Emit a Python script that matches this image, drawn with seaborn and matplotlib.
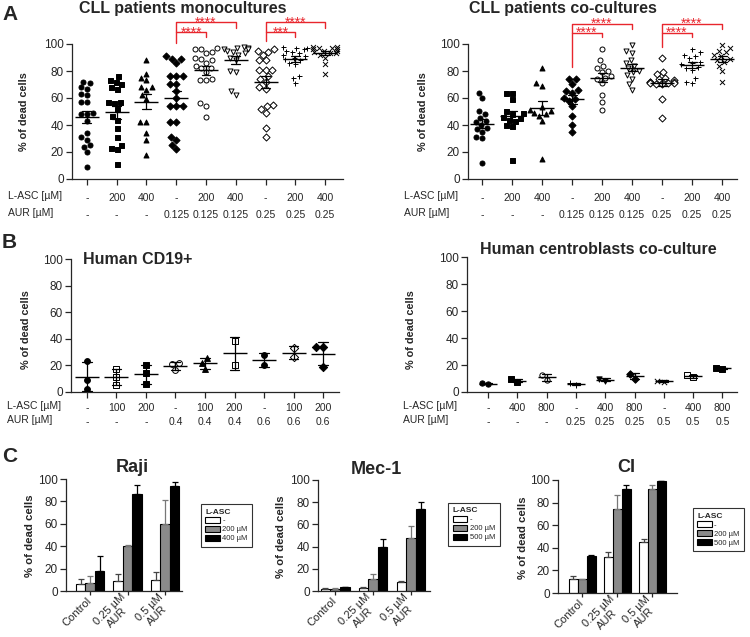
import numpy as np
import pandas as pd
import seaborn as sns
import matplotlib.pyplot as plt

# ---- panel A: CLL patients, % of dead cells (one point per patient)
lasc_a = ['-', '200', '400', '-', '200', '400', '-', '200', '400']
aur_a = ['-', '-', '-', '0.125', '0.125', '0.125', '0.25', '0.25', '0.25']
mono = [
    [72, 71, 68, 67, 63, 62, 57, 57, 49, 48, 48, 43, 34, 31, 29, 25, 24, 20, 9],
    [76, 73, 72, 70, 68, 67, 57, 57, 56, 52, 47, 44, 38, 31, 25, 23, 22, 11],
    [88, 78, 75, 73, 68, 68, 66, 62, 59, 42, 42, 34, 29, 18],
    [91, 89, 89, 86, 76, 76, 76, 70, 70, 65, 60, 54, 54, 54, 42, 42, 31, 29, 25, 22],
    [97, 96, 96, 94, 93, 90, 89, 88, 86, 84, 82, 82, 79, 74, 73, 73, 56, 54, 46],
    [98, 97, 97, 96, 96, 95, 94, 93, 92, 90, 88, 80, 79, 65, 62],
    [96, 95, 94, 92, 88, 88, 81, 81, 81, 76, 74, 72, 68, 67, 55, 54, 52, 49, 38, 31],
    [98, 97, 97, 96, 95, 94, 93, 92, 91, 90, 89, 88, 86, 85, 76, 75, 71],
    [98, 98, 97, 97, 96, 96, 95, 95, 94, 93, 93, 92, 90, 85, 78],
]
cocult = [
    [64, 60, 50, 48, 45, 43, 42, 40, 38, 37, 35, 31, 30, 12],
    [64, 64, 59, 50, 49, 48, 46, 45, 44, 43, 40, 39, 14],
    [82, 71, 69, 53, 51, 50, 49, 48, 47, 43, 15],
    [74, 74, 70, 66, 65, 64, 60, 59, 58, 54, 47, 40, 35],
    [96, 88, 84, 82, 80, 79, 76, 75, 74, 71, 62, 57, 51],
    [99, 95, 93, 88, 86, 84, 82, 80, 79, 77, 74, 70, 66],
    [90, 79, 78, 75, 74, 73, 72, 72, 72, 71, 71, 71, 70, 70, 59, 45],
    [96, 94, 92, 91, 90, 87, 86, 85, 83, 82, 81, 75, 72, 71],
    [99, 97, 95, 94, 92, 91, 89, 88, 87, 84, 80, 72],
]

# ---- panel B: healthy cells
lasc_b1 = ['-', '100', '200', '-', '100', '200', '-', '100', '200']
aur_b1 = ['-', '-', '-', '0.4', '0.4', '0.4', '0.6', '0.6', '0.6']
cd19 = [[23.5, 9, 2], [17.5, 11.5, 5.5], [20, 14, 6], [21.5, 21, 16.5],
        [25.5, 22, 17.5], [38, 20], [27.5, 20], [33, 26], [34, 33.5, 19]]
lasc_b2 = ['-', '400', '800', '-', '400', '800', '-', '400', '800']
aur_b2 = ['-', '-', '-', '0.25', '0.25', '0.25', '0.5', '0.5', '0.5']
centro = [[6, 6.5], [7.5, 9.5], [9, 12.5], [5.5, 6.5], [8.2, 10],
          [10, 13.5], [7.5, 8.5], [11, 12.5], [17.3, 17.9]]

# ---- panel C: cell lines, mean and upper error
c_conds = ['Control', '0.25 µM\nAUR', '0.5 µM\nAUR']
raji_lasc = ['-', '200 µM', '400 µM']
raji_mean = [[6, 9, 10], [7, 40, 60], [18, 87, 94]]
raji_err = [[5, 6, 7], [6, 1.5, 21], [13, 8, 3]]
mec_lasc = ['-', '200 µM', '500 µM']
mec_mean = [[2, 3, 8], [2.2, 11, 48], [3.5, 40, 74]]
mec_err = [[0.5, 0.5, 0.6], [0.6, 4, 11], [0.5, 7, 6]]
ci_lasc = ['-', '200 µM', '500 µM']
ci_mean = [[12, 32, 45], [12, 74, 92], [33, 92, 99]]
ci_err = [[3, 4, 3], [0.5, 13, 4], [1, 4, 0.5]]

sns.set_style('ticks')
plt.rcParams['font.family'] = ['Liberation Sans', 'DejaVu Sans']
plt.rcParams['axes.linewidth'] = 0.9
plt.rcParams['xtick.major.width'] = 0.9
plt.rcParams['ytick.major.width'] = 0.9

W, H = 750, 637
fig = plt.figure(figsize=(7.5, 6.37), dpi=100)
red = '#e8262d'


def px_axes(x0, y0, x1, y1):
    return fig.add_axes([x0 / W, 1 - y1 / H, (x1 - x0) / W, (y1 - y0) / H])


def ftext(x, y, s, **kw):
    fig.text(x / W, 1 - y / H, s, **kw)


def dot_panel(ax, groups, markers, faces, err, lasc, aur, size, mean_w, cap, xlim, spacing, pad):
    order = [str(i) for i in range(len(groups))]
    df = pd.DataFrame({'group': [str(i) for i, g in enumerate(groups) for _ in g],
                       'value': [v for g in groups for v in g]})
    for i, key in enumerate(order):
        sub = df[df['group'] == key]
        sns.swarmplot(data=sub, x='group', y='value', order=order, marker=markers[i],
                      color=faces[i], edgecolor='black', linewidth=0.7, size=size,
                      warn_thresh=1, clip_on=False, zorder=2, ax=ax)
    sns.pointplot(data=df, x='group', y='value', order=order, errorbar=err, capsize=cap,
                  color='black', marker='_', markersize=mean_w, markeredgewidth=1,
                  linestyle='none', err_kws={'linewidth': 0.9, 'zorder': 5},
                  zorder=5, clip_on=False, ax=ax)
    ax.set_ylim(0, 100)
    ax.set_yticks(range(0, 101, 20))
    ax.set_xlim(*xlim)
    ax.set_xticks(range(len(groups)))
    ax.set_xticklabels([f'{a}\n{b}' for a, b in zip(lasc, aur)], fontsize=7.5,
                       linespacing=spacing)
    ax.tick_params(axis='x', length=4.5, pad=pad)
    ax.tick_params(axis='y', length=4, labelsize=8.5, pad=2)
    ax.set_xlabel('')
    ax.set_ylabel('% of dead cells', fontweight='bold', fontsize=7.8)
    ax.annotate('L-ASC [µM]\nAUR [µM]', xy=(0, 0), xycoords='axes fraction',
                xytext=(-7, -(pad + 3.3)), textcoords='offset points', ha='right', va='top',
                fontsize=7.5, linespacing=spacing, multialignment='left')
    sns.despine(ax=ax)


def bracket(ax, g0, g1, y, leg0, leg1, stars):
    ax.plot([g0, g0, g1, g1], [leg0, y, y, leg1], color=red, lw=1, clip_on=False)
    ax.text((g0 + g1) / 2, y - 3.0, stars, color=red, fontsize=10, ha='center',
            va='baseline', clip_on=False)


markers_a = ['o', 's', '^', 'D', 'o', 'v', 'D', '+', 'x']
faces_a = ['black', 'black', 'black', 'black', 'white', 'white', 'white', 'black', 'black']

ax1 = px_axes(72, 44, 343, 179)
dot_panel(ax1, mono, markers_a, faces_a, 'se', lasc_a, aur_a, 3.6, 17, 0.3,
          (-0.5, 8.6), 1.9, 5.5)
ax1.yaxis.set_label_coords(-0.16, 0.5)
bracket(ax1, 3, 5, 116, 101, 112, '****')
bracket(ax1, 3, 4, 108.6, 108.6, 105, '****')
bracket(ax1, 6, 8, 116, 102, 112, '****')
bracket(ax1, 6, 7, 108.6, 108.6, 105, '***')

ax2 = px_axes(468, 44, 737, 179)
dot_panel(ax2, cocult, markers_a, faces_a, 'se', lasc_a, aur_a, 3.6, 17, 0.3,
          (-0.47, 8.5), 1.9, 5.5)
ax2.yaxis.set_label_coords(-0.15, 0.5)
bracket(ax2, 3, 5, 115, 83, 111, '****')
bracket(ax2, 3, 4, 108, 108, 105, '****')
bracket(ax2, 6, 8, 115, 98, 111, '****')
bracket(ax2, 6, 7, 108, 108, 105, '****')

markers_b1 = ['o', 's', 's', 'o', '^', 's', 'o', 'D', 'D']
faces_b1 = ['black', 'white', 'black', 'white', 'black', 'white', 'black', 'white', 'black']
ax3 = px_axes(71, 259, 339, 392)
dot_panel(ax3, cd19, markers_b1, faces_b1, 'sd', lasc_b1, aur_b1, 4.2, 17, 0.33,
          (-0.54, 8.54), 1.5, 3.5)
ax3.yaxis.set_label_coords(-0.15, 0.47)

markers_b2 = ['o', 's', 'o', '+', 'v', 'D', 'x', 's', 's']
faces_b2 = ['black', 'black', 'white', 'black', 'black', 'black', 'black', 'white', 'black']
ax4 = px_axes(467, 257, 737, 392)
dot_panel(ax4, centro, markers_b2, faces_b2, 'sd', lasc_b2, aur_b2, 3.8, 13, 0.3,
          (-0.72, 8.5), 1.5, 3.5)
ax4.yaxis.set_label_coords(-0.19, 0.46)


def bar_panel(ax, lasc, means, errs, xlim, leg_x, leg_y):
    df = pd.DataFrame({'cond': [c for _ in lasc for c in c_conds],
                       'lasc': [l for l in lasc for _ in c_conds],
                       'mean': [v for row in means for v in row]})
    sns.barplot(data=df, x='cond', y='mean', hue='lasc', order=c_conds, hue_order=lasc,
                palette=['white', '#8a8a8a', 'black'], edgecolor='black', linewidth=0.8,
                errorbar=None, width=0.76, ax=ax)
    for cont, err, ec in zip(ax.containers, errs, ['#444444', '#777777', 'black']):
        xs = [b.get_x() + b.get_width() / 2 for b in cont]
        hs = [b.get_height() for b in cont]
        ax.errorbar(xs, hs, yerr=[np.zeros(len(err)), err], fmt='none', ecolor=ec,
                    elinewidth=0.9, capsize=2, capthick=0.9, zorder=1)
    ax.set_ylim(0, 100)
    ax.set_yticks(range(0, 101, 20))
    ax.set_xlim(*xlim)
    ax.set_xticks(range(3))
    ax.set_xticklabels(c_conds, rotation=45, ha='right', va='center',
                       rotation_mode='anchor', multialignment='center', fontsize=8)
    ax.tick_params(axis='x', length=3, pad=3)
    ax.tick_params(axis='y', length=4, labelsize=8.5, pad=2)
    ax.set_xlabel('')
    ax.set_ylabel('% of dead cells', fontweight='bold', fontsize=8.2)
    sns.move_legend(ax, 'center left', bbox_to_anchor=(leg_x, leg_y), title='L-ASC',
                    frameon=True, fancybox=False, edgecolor='black', fontsize=5.5,
                    title_fontsize=6, handlelength=1.9, handleheight=0.9,
                    borderpad=0.6, labelspacing=0.15, handletextpad=0.3,
                    alignment='left')
    leg = ax.get_legend()
    leg.get_title().set_fontweight('bold')
    leg.get_frame().set_linewidth(0.8)
    sns.despine(ax=ax)


ax5 = px_axes(66, 479, 182, 591)
bar_panel(ax5, raji_lasc, raji_mean, raji_err, (-0.64, 2.45), 1.13, 0.585)
ax5.yaxis.set_label_coords(-0.27, 0.49)
ax6 = px_axes(318, 480, 430, 591)
bar_panel(ax6, mec_lasc, mec_mean, mec_err, (-0.45, 2.5), 1.13, 0.6)
ax6.yaxis.set_label_coords(-0.29, 0.49)
ax7 = px_axes(558, 480, 677, 593)
bar_panel(ax7, ci_lasc, ci_mean, ci_err, (-0.69, 2.7), 1.1, 0.56)
ax7.yaxis.set_label_coords(-0.25, 0.49)

# titles and panel letters
ftext(183, 8, 'CLL patients monocultures', fontsize=11.5, fontweight='bold', ha='center', va='center')
ftext(563, 8, 'CLL patients co-cultures', fontsize=11.5, fontweight='bold', ha='center', va='center')
ftext(83, 259, 'Human CD19+', fontsize=11.5, fontweight='bold', ha='left', va='center')
ftext(598, 249, 'Human centroblasts co-culture', fontsize=11.5, fontweight='bold', ha='center', va='center')
ftext(132, 467, 'Raji', fontsize=13, fontweight='bold', ha='center', va='center')
ftext(376, 470, 'Mec-1', fontsize=13, fontweight='bold', ha='center', va='center')
ftext(626, 468, 'CI', fontsize=13, fontweight='bold', ha='center', va='center')
ftext(2, 15, 'A', fontsize=15, fontweight='bold', ha='left', va='center')
ftext(2, 243, 'B', fontsize=15, fontweight='bold', ha='left', va='center')
ftext(2, 457, 'C', fontsize=15, fontweight='bold', ha='left', va='center')

fig.savefig('out.png', dpi=100)
